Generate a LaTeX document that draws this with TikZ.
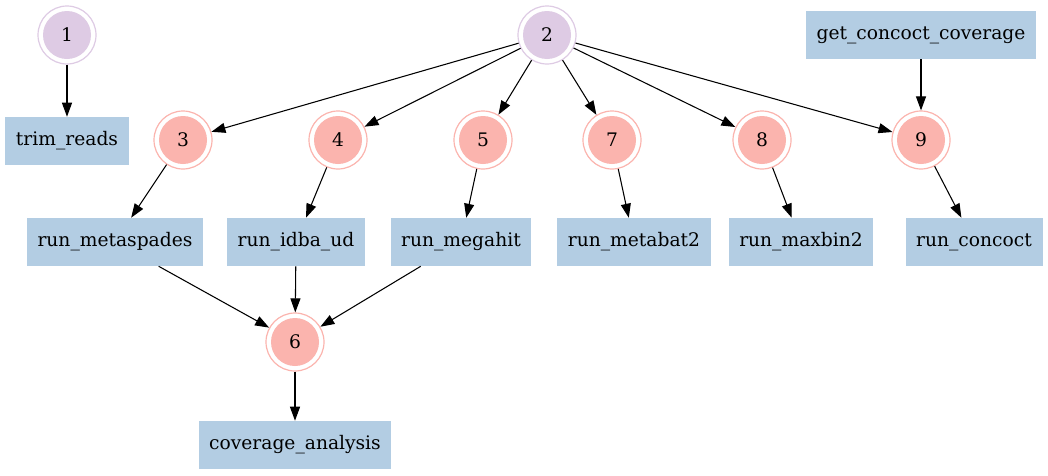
\documentclass[tikz,border=0pt]{standalone}
\usepackage{fontspec}
\setmainfont{DejaVu Serif}
\usetikzlibrary{arrows.meta}
\definecolor{lilac}{HTML}{DECBE4}
\definecolor{salmon}{HTML}{FBB4AE}
\definecolor{steel}{HTML}{B3CDE3}

\begin{document}
\begin{tikzpicture}[x=0.75pt,y=-0.75pt]
\tikzstyle{every node}+=[font=\fontsize{14}{17}\selectfont]
\tikzstyle{ring}=[circle, draw=#1, line width=0.9pt, fill=white, minimum size=43.5pt, inner sep=0pt, path picture={\fill[#1] (path picture bounding box.center) circle (18pt);}]
\tikzstyle{task}=[rectangle, fill=steel, minimum height=36pt, inner xsep=8pt]
\tikzstyle{edge}=[-{Triangle[length=10.5pt,width=7.5pt]}, line width=0.8pt]
\useasboundingbox (0,0) rectangle (1048,475);
\node [ring=lilac] (n1) at (67,35) {1};
\node [ring=lilac] (n2) at (547,35) {2};
\node [task] (getcov) at (921,35) {get\_concoct\_coverage};
\node [task] (trim) at (67,141) {trim\_reads};
\node [ring=salmon] (n3) at (183,140) {3};
\node [ring=salmon] (n4) at (338,140) {4};
\node [ring=salmon] (n5) at (483,140) {5};
\node [ring=salmon] (n7) at (612,140) {7};
\node [ring=salmon] (n8) at (762,140) {8};
\node [ring=salmon] (n9) at (921,140) {9};
\node [task] (spades) at (115,242) {run\_metaspades};
\node [task] (idba) at (296,242) {run\_idba\_ud};
\node [task] (megahit) at (461,242) {run\_megahit};
\node [task] (metabat) at (634,242) {run\_metabat2};
\node [task] (maxbin) at (801,242) {run\_maxbin2};
\node [task] (concoct) at (974,242) {run\_concoct};
\node [ring=salmon] (n6) at (295,342) {6};
\node [task] (cov) at (295,445) {coverage\_analysis};
\draw [edge] (n1) -- (trim);
\draw [edge] (n2) -- (n3);
\draw [edge] (n2) -- (n4);
\draw [edge] (n2) -- (n5);
\draw [edge] (n2) -- (n7);
\draw [edge] (n2) -- (n8);
\draw [edge] (n2) -- (n9);
\draw [edge] (getcov) -- (n9);
\draw [edge] (n3) -- (spades);
\draw [edge] (n4) -- (idba);
\draw [edge] (n5) -- (megahit);
\draw [edge] (n7) -- (metabat);
\draw [edge] (n8) -- (maxbin);
\draw [edge] (n9) -- (concoct);
\draw [edge] (spades) -- (n6);
\draw [edge] (idba) -- (n6);
\draw [edge] (megahit) -- (n6);
\draw [edge] (n6) -- (cov);
\end{tikzpicture}
\end{document}
